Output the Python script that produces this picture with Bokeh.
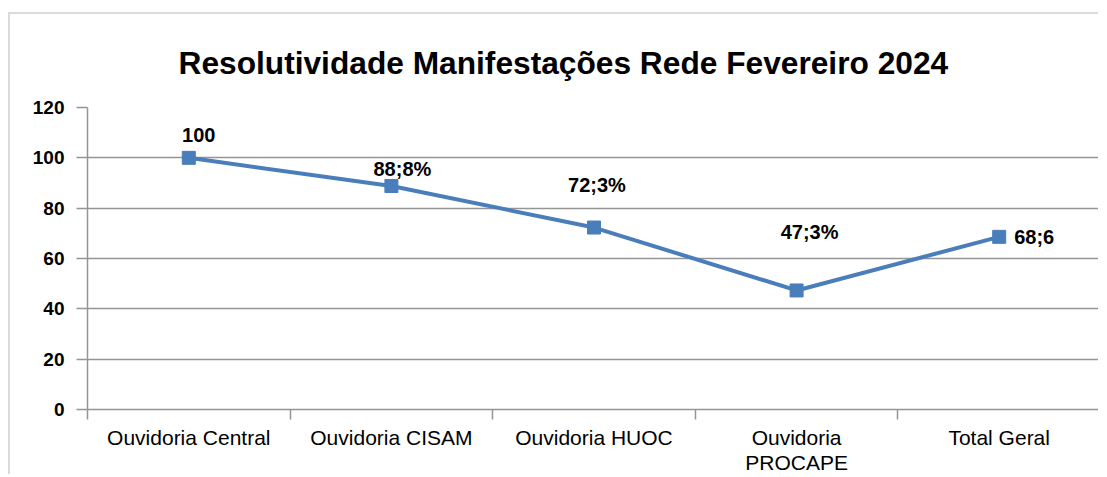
from bokeh.plotting import figure
from bokeh.models import FixedTicker, Range1d, ColumnDataSource
from bokeh.core.properties import value
from bokeh.embed import file_html
from bokeh.resources import INLINE

# ---- data ----
categories = ["Ouvidoria Central", "Ouvidoria CISAM", "Ouvidoria HUOC", "Ouvidoria\nPROCAPE", "Total Geral"]
values = [100, 88.8, 72.3, 47.3, 68.6]
point_labels = ["100", "88;8%", "72;3%", "47;3%", "68;6"]
y_ticks = [0, 20, 40, 60, 80, 100, 120]
title_text = "Resolutividade Manifestações Rede Fevereiro 2024"

# ---- style ----
label_dx = [10, 11, 3, 13, 15]
label_dy = [-23, -17, -43, -58, 0]
label_align = ["center", "center", "center", "center", "left"]
FONT = "Liberation Sans"
BLUE = "#4A7EBB"
GRID = "#959595"

xs = [i + 0.5 for i in range(len(categories))]

src = ColumnDataSource(dict(x=xs, y=values, label=point_labels,
                            dx=label_dx, dy=label_dy, align=label_align))

p = figure(width=1090, height=462, output_backend="svg", toolbar_location=None,
           x_range=Range1d(0, len(categories)), y_range=Range1d(0, y_ticks[-1]),
           min_border_left=77, min_border_right=0, min_border_top=93, min_border_bottom=66,
           title=title_text)
p.styles = {"margin-left": "8px", "margin-top": "12px",
            "border-left": "2px solid #dadada", "border-top": "2px solid #dadada"}
p.outline_line_color = None
p.background_fill_color = "white"
p.border_fill_color = "white"

p.title.text_font = FONT
p.title.text_font_size = "31.7px"
p.title.text_font_style = "bold"
p.title.text_color = "black"
p.title.align = "left"
p.title.offset = 91
p.title.standoff = 54

# grid
p.xgrid.grid_line_color = None
p.ygrid.ticker = FixedTicker(ticks=y_ticks)
p.ygrid.grid_line_color = GRID
p.ygrid.grid_line_width = 1.5

# y axis
p.yaxis.ticker = FixedTicker(ticks=y_ticks)
p.yaxis.axis_line_color = GRID
p.yaxis.axis_line_width = 1.5
p.yaxis.major_tick_line_color = GRID
p.yaxis.major_tick_line_width = 1.5
p.yaxis.major_tick_out = 11
p.yaxis.major_tick_in = 0
p.yaxis.minor_tick_line_color = None
p.yaxis.major_label_text_font = FONT
p.yaxis.major_label_text_font_size = "19px"
p.yaxis.major_label_text_font_style = "bold"
p.yaxis.major_label_text_color = "black"
p.yaxis.major_label_standoff = 12

# x axis: labels at category centres, tick marks at category boundaries
p.xaxis.ticker = FixedTicker(ticks=xs, minor_ticks=list(range(len(categories) + 1)))
p.xaxis.major_label_overrides = {x: c for x, c in zip(xs, categories)}
p.xaxis.axis_line_color = GRID
p.xaxis.axis_line_width = 1.5
p.xaxis.major_tick_line_color = None
p.xaxis.major_tick_out = 0
p.xaxis.major_tick_in = 0
p.xaxis.minor_tick_line_color = GRID
p.xaxis.minor_tick_line_width = 1.5
p.xaxis.minor_tick_out = 10
p.xaxis.minor_tick_in = 0
p.xaxis.major_label_text_font = FONT
p.xaxis.major_label_text_font_size = "21px"
p.xaxis.major_label_text_color = "black"
p.xaxis.major_label_text_line_height = 1.1
p.xaxis.major_label_standoff = 6

p.line("x", "y", source=src, line_color=BLUE, line_width=4)
p.scatter("x", "y", source=src, marker="square", size=13, fill_color=BLUE, line_color=BLUE)
p.text("x", "y", text="label", source=src, x_offset="dx", y_offset="dy",
       text_align="align", text_baseline="middle",
       text_font=value(FONT), text_font_size="20px", text_font_style="bold", text_color="black")

open("out.html", "w").write(file_html(p, INLINE))
